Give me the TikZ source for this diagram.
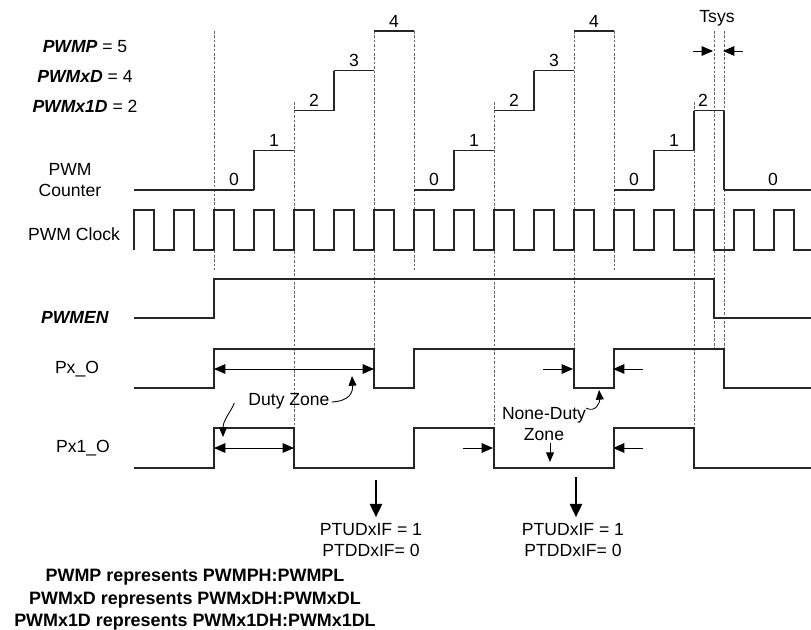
\documentclass[tikz,border=0pt]{standalone}
\usepackage{fontspec}
\setmainfont{Liberation Sans}
\usetikzlibrary{arrows.meta, positioning}

\tikzset{
  wave/.style={line width=0.6pt, black!85},
  guide/.style={line width=0.4pt, black!60, dash pattern=on 1.5pt off 1pt},
  dimarrow/.style={line width=0.5pt, -{Triangle[length=6.5pt, width=5.5pt]}},
  dimboth/.style={line width=0.5pt, {Triangle[length=6.5pt, width=5.5pt]}-{Triangle[length=6.5pt, width=5.5pt]}},
  notearrow/.style={line width=0.5pt, -{Triangle[length=5.5pt, width=4.5pt]}},
  bigarrow/.style={line width=0.8pt, -{Triangle[length=7.5pt, width=7pt]}},
}

\begin{document}
\begin{tikzpicture}[x=0.02cm, y=-0.02cm, font=\fontsize{10}{12}\selectfont]
\useasboundingbox (0,0) rectangle (811,629);

% Define the signal levels (one unit = one pixel, y grows downward)
\def\cntzero{190}  % PWM counter at 0
\def\cntstep{39.75} % height of one count
\def\clkhi{210} \def\clklo{250}

% Register values
\node (pwmp)  at (85,47)  {\textbf{\textit{PWMP}} = 5};
\node (pwmxd) at (85,76)  {\textbf{\textit{PWMxD}} = 4};
\node (pwmx1d) at (85,106) {\textbf{\textit{PWMx1D}} = 2};

% Signal names
\node[align=center] (cntname) at (70,180) {PWM\\Counter};
\node (clkname) at (74,234) {PWM Clock};
\node (enname)  at (75,317) {\textbf{\textit{PWMEN}}};
\node (pxname)  at (77,369) {Px\_O};
\node (px1name) at (83,448) {Px1\_O};

% Guide lines at the clock edges
\foreach \x/\ya/\yb in {214/31/270, 294/102/428, 374/31/349, 414/31/270, 494/102/428,
                        574/31/349, 614/31/270, 694/102/428, 714/31/349, 724/31/349} {
  \draw[guide] (\x,\ya) -- (\x,\yb);
}

% Draw the PWM counter steps and their values
\foreach \xa/\xb/\lv/\lx [count=\i] in {134/254/0/234, 254/294/1/274, 294/334/2/314, 334/374/3/354,
    374/414/4/394, 414/454/0/434, 454/494/1/474, 494/534/2/514, 534/574/3/554, 574/614/4/594,
    614/654/0/634, 654/694/1/674, 694/724/2/703, 724/811/0/773} {
  \draw[wave] (\xa,{\cntzero-\cntstep*\lv}) -- (\xb,{\cntzero-\cntstep*\lv});
  \node[above, inner sep=2pt] (cnt\i) at (\lx,{\cntzero-\cntstep*\lv}) {\lv};
}
\foreach \x/\lv/\lw in {254/0/1, 334/2/3, 454/0/1, 534/2/3, 654/0/1, 694/1/2, 724/2/0} {
  \draw[wave] (\x,{\cntzero-\cntstep*\lv}) -- (\x,{\cntzero-\cntstep*\lw});
}

% Draw the PWM clock
\draw[wave] (134,\clklo) \foreach \k in {0,...,16} {
    -- ({134+40*\k},\clklo) -- ({134+40*\k},\clkhi) -- ({154+40*\k},\clkhi) -- ({154+40*\k},\clklo)
  } -- (811,\clklo);

% Draw the outputs
\draw[wave] (134,318) -- (214,318) -- (214,279) -- (714,279) -- (714,318) -- (811,318);
\draw[wave] (134,388) -- (214,388) -- (214,349) -- (374,349) -- (374,388) -- (414,388)
  -- (414,349) -- (574,349) -- (574,388) -- (614,388) -- (614,349) -- (724,349) -- (724,388) -- (811,388);
\draw[wave] (134,468) -- (214,468) -- (214,428) -- (294,428) -- (294,468) -- (414,468)
  -- (414,428) -- (494,428) -- (494,468) -- (614,468) -- (614,428) -- (694,428) -- (694,468) -- (811,468);

% Tsys
\node (tsys) at (717,18) {Tsys};
\coordinate (tsysL) at (693,51);
\coordinate (tsysA) at (713,51);
\coordinate (tsysR) at (743,51);
\coordinate (tsysB) at (723,51);
\draw[dimarrow] (tsysL) -- (tsysA);
\draw[dimarrow] (tsysR) -- (tsysB);

% Duty zones
\coordinate (dutyA) at (214,369);
\coordinate (dutyB) at (374,369);
\coordinate (duty1A) at (214,448);
\coordinate (duty1B) at (294,448);
\draw[dimboth] (dutyA) -- (dutyB);
\draw[dimboth] (duty1A) -- (duty1B);
\node (duty) at (289,401) {Duty Zone};
\draw[notearrow] (duty.west) ++(-8,2) .. controls (232,410) and (223,420) .. (223,437);
\draw[notearrow] (duty.east) ++(-4,1) .. controls (350,401) and (353,392) .. (352,376);

% None-duty zones
\coordinate (ndA) at (543,369);
\coordinate (ndB) at (573,369);
\coordinate (ndC) at (643,369);
\coordinate (ndD) at (613,369);
\coordinate (nd1A) at (463,448);
\coordinate (nd1B) at (493,448);
\coordinate (nd1C) at (643,448);
\coordinate (nd1D) at (613,448);
\draw[dimarrow] (ndA) -- (ndB);
\draw[dimarrow] (ndC) -- (ndD);
\draw[dimarrow] (nd1A) -- (nd1B);
\draw[dimarrow] (nd1C) -- (nd1D);
\node[align=center] (noneduty) at (544,424) {None-Duty\\Zone};
\draw[notearrow] (noneduty.north east) ++(-6,7) .. controls (596,413) and (600,402) .. (599,390);
\coordinate (ndown) at (550,443);
\draw[notearrow] (ndown) -- (550,462);

% Interrupt flags
\node[align=center] (flag1) at (371,540) {PTUDxIF = 1\\PTDDxIF= 0};
\node[align=center] (flag2) at (573,540) {PTUDxIF = 1\\PTDDxIF= 0};
\coordinate (upd1) at (376,480);
\coordinate (upd2) at (576,477);
\draw[bigarrow] (upd1) -- (upd1 |- flag1.north);
\draw[bigarrow] (upd2) -- (upd2 |- flag2.north);

% Register notes
\node[align=center, font=\fontsize{10.2}{12.8}\selectfont\bfseries] (regnote) at (195,600)
  {PWMP represents PWMPH:PWMPL\\PWMxD represents PWMxDH:PWMxDL\\PWMx1D represents PWMx1DH:PWMx1DL};
\end{tikzpicture}
\end{document}
